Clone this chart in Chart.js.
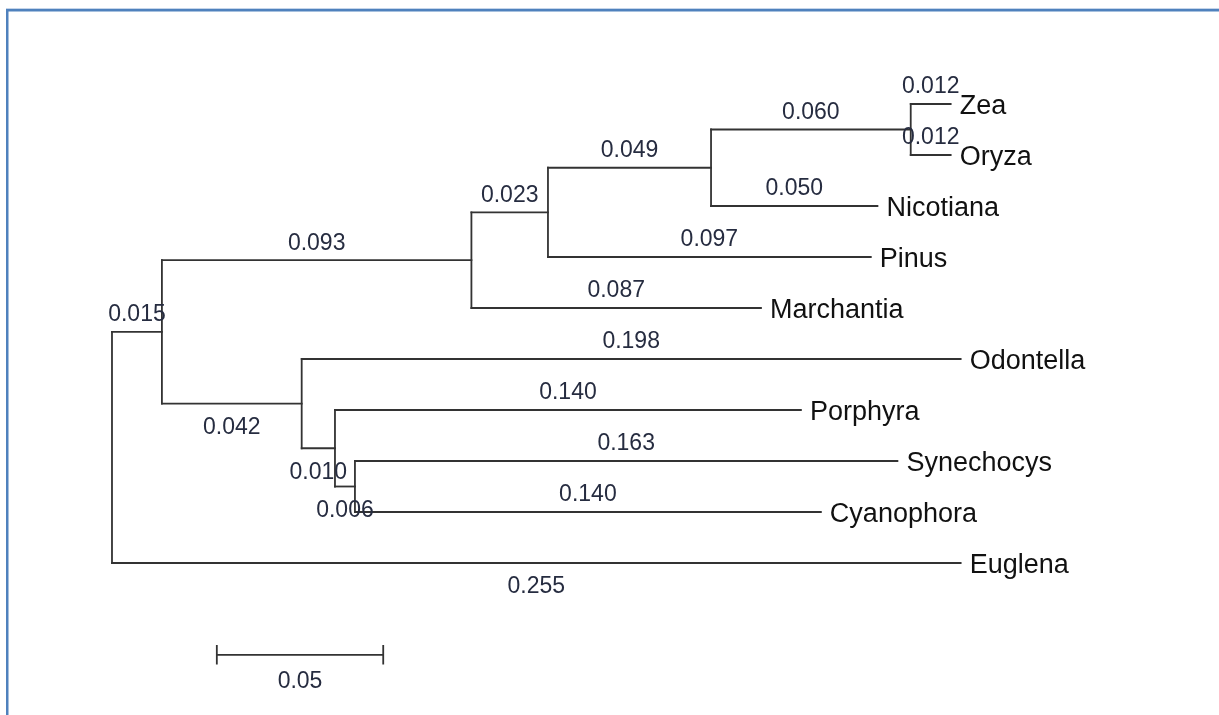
<!DOCTYPE html>
<html lang="en">
<head>
  <meta charset="UTF-8">
  <title>Phylogenetic tree</title>
  <script src="https://cdn.jsdelivr.net/npm/chart.js"></script>
  <style>
    body {
      margin: 0;
      background: #fff;
    }
    #wrap {
      position: relative;
      width: 1219px;
      height: 715px;
    }
  </style>
</head>
<body>
  <div id="wrap"><canvas id="tree"></canvas></div>

  <script>
    // leaves, top to bottom
    const taxa = ["Zea", "Oryza", "Nicotiana", "Pinus", "Marchantia",
                  "Odontella", "Porphyra", "Synechocys", "Cyanophora", "Euglena"];
    const taxaParents = ["E", "E", "D", "C", "B", "F", "G", "H", "H", "root"];
    const taxaLengths = [0.012, 0.012, 0.050, 0.097, 0.087, 0.198, 0.140, 0.163, 0.140, 0.255];

    // internal nodes (parents listed before children)
    const nodes = ["A", "B", "C", "D", "E", "F", "G", "H"];
    const nodeParents = ["root", "A", "B", "C", "D", "A", "F", "G"];
    const nodeLengths = [0.015, 0.093, 0.023, 0.049, 0.060, 0.042, 0.010, 0.006];

    const scaleBarLength = 0.05;

    // branches whose length label sits under the line
    const labelBelow = ["Euglena", "F", "G", "H"];

    // ---- layout: x = distance from root, y = leaf order ----
    const pos = { root: { x: 0 } };
    nodes.forEach((n, i) => {
      pos[n] = { x: pos[nodeParents[i]].x + nodeLengths[i] };
    });
    taxa.forEach((t, i) => {
      pos[t] = { x: pos[taxaParents[i]].x + taxaLengths[i], y: i };
    });

    const branches = [];
    nodes.forEach((n, i) => branches.push({ name: n, parent: nodeParents[i], len: nodeLengths[i] }));
    taxa.forEach((t, i) => branches.push({ name: t, parent: taxaParents[i], len: taxaLengths[i] }));

    function childYs(name) {
      return branches.filter(b => b.parent === name).map(b => nodeY(b.name));
    }
    function nodeY(name) {
      if (pos[name].y !== undefined) return pos[name].y;
      const kids = childYs(name);
      pos[name].y = (Math.min(...kids) + Math.max(...kids)) / 2;
      return pos[name].y;
    }
    nodeY("root");

    const lineColor = "#333";
    const lineStyle = {
      borderColor: lineColor,
      borderWidth: 1.8,
      borderCapStyle: "square",
      pointRadius: 0,
      showLine: true,
      tension: 0
    };

    const datasets = [];
    // vertical line at each internal node
    ["root", ...nodes].forEach(n => {
      const ys = childYs(n);
      datasets.push({ ...lineStyle,
        data: [{ x: pos[n].x, y: Math.min(...ys) }, { x: pos[n].x, y: Math.max(...ys) }] });
    });
    // horizontal branch for each child
    branches.forEach(b => {
      const p = pos[b.parent], c = pos[b.name];
      datasets.push({ ...lineStyle, data: [{ x: p.x, y: c.y }, { x: c.x, y: c.y }] });
    });

    // scale bar
    const barStart = 0.0315, barY = 10.8, tickH = 0.19;
    datasets.push({ ...lineStyle, borderCapStyle: "butt",
      data: [
        { x: barStart, y: barY - tickH }, { x: barStart, y: barY + tickH }, { x: barStart, y: barY },
        { x: barStart + scaleBarLength, y: barY },
        { x: barStart + scaleBarLength, y: barY - tickH }, { x: barStart + scaleBarLength, y: barY + tickH }
      ] });

    const labelFont = "23px 'Liberation Sans', Arial, sans-serif";
    const taxaFont = "27px 'Liberation Sans', Arial, sans-serif";

    const treeText = {
      id: "treeText",
      beforeDraw(chart) {
        const ctx = chart.ctx;
        ctx.save();
        ctx.fillStyle = "#fff";
        ctx.fillRect(0, 0, chart.width, chart.height);
        // frame
        ctx.fillStyle = "#c5d5ea";
        ctx.fillRect(6, 8, chart.width, 1);
        ctx.fillStyle = "#4f81bd";
        ctx.fillRect(6, 9, chart.width, 2.5);
        ctx.fillRect(6, 9, 2.5, chart.height);
        ctx.restore();
      },
      afterDatasetsDraw(chart) {
        const ctx = chart.ctx;
        const xs = chart.scales.x, ys = chart.scales.y;
        ctx.save();
        ctx.textBaseline = "middle";

        // branch lengths
        ctx.font = labelFont;
        ctx.fillStyle = "#262c40";
        ctx.textAlign = "center";
        branches.forEach(b => {
          const x0 = xs.getPixelForValue(pos[b.parent].x);
          const x1 = xs.getPixelForValue(pos[b.name].x);
          const y = ys.getPixelForValue(pos[b.name].y);
          const dy = labelBelow.includes(b.name) ? 24 : -17;
          ctx.fillText(b.len.toFixed(3), (x0 + x1) / 2, y + dy);
        });

        // scale bar label
        ctx.fillText(String(scaleBarLength),
          xs.getPixelForValue(barStart + scaleBarLength / 2),
          ys.getPixelForValue(barY) + 27);

        // taxa names
        ctx.font = taxaFont;
        ctx.fillStyle = "#111";
        ctx.textAlign = "left";
        taxa.forEach(t => {
          ctx.fillText(t, xs.getPixelForValue(pos[t].x) + 9, ys.getPixelForValue(pos[t].y) + 3);
        });
        ctx.restore();
      }
    };

    new Chart(document.getElementById("tree"), {
      type: "scatter",
      data: { datasets },
      options: {
        responsive: true,
        maintainAspectRatio: false,
        animation: false,
        layout: { padding: 0 },
        plugins: {
          legend: { display: false },
          tooltip: { enabled: false }
        },
        scales: {
          x: { type: "linear", display: false, min: -0.03365, max: 0.33263 },
          y: { type: "linear", display: false, reverse: true, min: -2.0392, max: 11.9804 }
        }
      },
      plugins: [treeText]
    });
  </script>
</body>
</html>
